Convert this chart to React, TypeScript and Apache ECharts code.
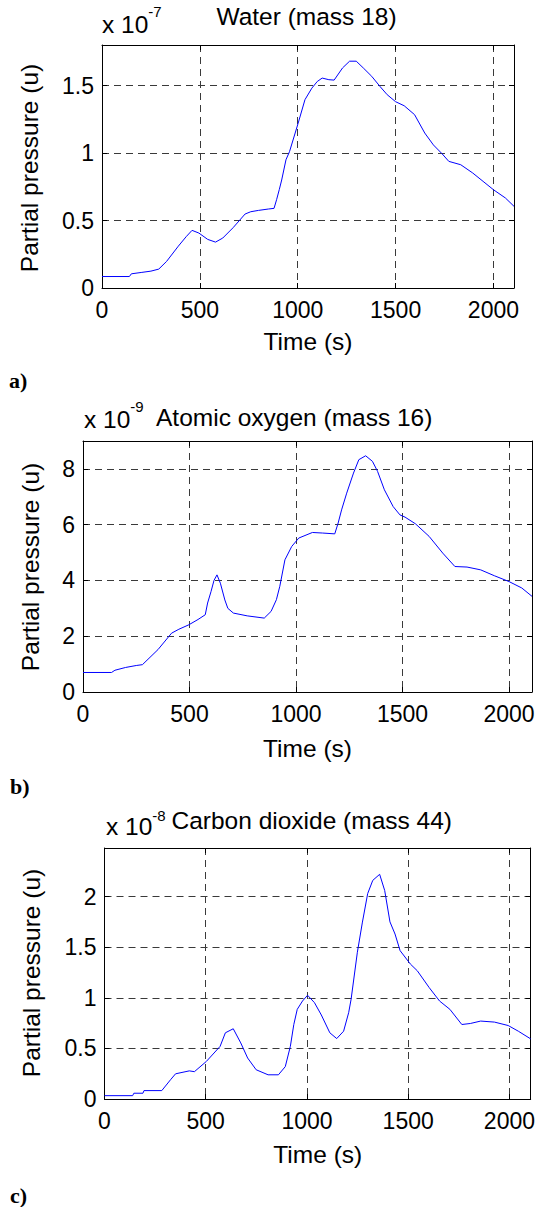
import React, { useEffect, useRef } from "react";
import * as echarts from "echarts";

// Time (s) and partial pressure values (scaled units)
const waterT = [0, 140, 150, 200, 250, 290, 330, 390, 430, 460, 495, 540, 580, 617, 670, 731, 760, 800, 850, 879, 892, 906, 918, 940, 958, 1002, 1037, 1072, 1100, 1125, 1159, 1186, 1229, 1265, 1299, 1335, 1378, 1422, 1457, 1500, 1544, 1597, 1649, 1693, 1737, 1772, 1833, 1894, 1947, 2000, 2061, 2105];
const waterV = [0.085, 0.085, 0.105, 0.115, 0.125, 0.14, 0.197, 0.31, 0.38, 0.427, 0.407, 0.36, 0.34, 0.37, 0.447, 0.548, 0.565, 0.575, 0.585, 0.59, 0.654, 0.73, 0.8, 0.95, 1.01, 1.22, 1.395, 1.48, 1.53, 1.555, 1.543, 1.54, 1.63, 1.68, 1.68, 1.63, 1.568, 1.49, 1.432, 1.38, 1.35, 1.284, 1.148, 1.06, 0.995, 0.938, 0.913, 0.852, 0.79, 0.728, 0.667, 0.605];

const oxyT = [0, 134, 150, 200, 250, 279, 352, 416, 450, 497, 540, 574, 585, 601, 615, 629, 645, 666, 680, 706, 771, 851, 883, 908, 924, 948, 980, 1013, 1077, 1125, 1182, 1198, 1214, 1238, 1270, 1295, 1327, 1359, 1383, 1415, 1456, 1488, 1512, 1561, 1625, 1689, 1746, 1803, 1867, 1931, 2000, 2060, 2108];
const oxyV = [0.7, 0.7, 0.78, 0.88, 0.95, 0.98, 1.52, 2.11, 2.25, 2.41, 2.6, 2.77, 3.19, 3.6, 4.0, 4.2, 3.9, 3.3, 3.0, 2.83, 2.73, 2.65, 2.89, 3.31, 3.79, 4.74, 5.22, 5.52, 5.72, 5.7, 5.67, 6.06, 6.53, 7.13, 7.85, 8.33, 8.47, 8.27, 7.91, 7.25, 6.65, 6.35, 6.27, 6.03, 5.58, 4.98, 4.5, 4.48, 4.38, 4.17, 3.96, 3.73, 3.43];

const co2T = [0, 139, 145, 190, 195, 283, 326, 351, 419, 444, 503, 571, 597, 636, 673, 707, 749, 808, 859, 893, 918, 935, 952, 978, 1003, 1037, 1071, 1113, 1147, 1181, 1206, 1218, 1249, 1274, 1300, 1325, 1359, 1384, 1410, 1435, 1460, 1511, 1545, 1604, 1655, 1706, 1765, 1807, 1858, 1926, 1994, 2044, 2105];
const co2V = [0.033, 0.033, 0.057, 0.057, 0.083, 0.083, 0.19, 0.249, 0.278, 0.27, 0.371, 0.52, 0.654, 0.694, 0.554, 0.405, 0.289, 0.239, 0.239, 0.32, 0.52, 0.736, 0.886, 0.968, 1.025, 0.952, 0.83, 0.654, 0.597, 0.67, 0.853, 0.985, 1.45, 1.748, 2.03, 2.16, 2.22, 2.06, 1.75, 1.63, 1.466, 1.333, 1.267, 1.1, 0.968, 0.886, 0.736, 0.746, 0.77, 0.76, 0.726, 0.67, 0.594];

const titles = ["Water (mass 18)", "Atomic oxygen (mass 16)", "Carbon dioxide (mass 44)"];
const exponents = ["-7", "-9", "-8"];
const panelLabels = ["a)", "b)", "c)"];
const xLabel = "Time (s)";
const yLabel = "Partial pressure (u)";
const xMax = [2105, 2108, 2105];
const yMax = [1.8, 9, 2.48];
const yInterval = [0.5, 2, 0.5];

const FONT = "'Liberation Sans', Arial, Helvetica, sans-serif";

const grids = [
  { left: 102, top: 45, width: 412, height: 243 },
  { left: 83, top: 441, width: 449, height: 251 },
  { left: 104.5, top: 848, width: 426.5, height: 251 },
];

function pairs(t: number[], v: number[]) {
  return t.map((x, i) => [x, v[i]]);
}

export default function App() {
  const ref = useRef<HTMLDivElement>(null);
  useEffect(() => {
    document.body.style.margin = "0";
    const chart = echarts.init(ref.current!, undefined, { renderer: "svg" });
    const xAxis: any[] = [];
    const yAxis: any[] = [];
    const line = { show: true, onZero: false, lineStyle: { color: "#000", width: 1 } };
    const tick = { show: true, inside: true, length: 5, lineStyle: { color: "#000", width: 1 } };
    const split = { show: true, lineStyle: { color: "#3a3a3a", width: 1, type: [7, 5] } };
    const fmt = (v: number) => String(v);
    grids.forEach((g, i) => {
      xAxis.push({
        gridIndex: i, type: "value", min: 0, max: xMax[i], interval: 500,
        axisLine: line, axisTick: tick,
        axisLabel: { color: "#000", fontSize: 23, fontFamily: FONT, margin: 10, showMaxLabel: false, formatter: fmt },
        splitLine: split,
      });
      xAxis.push({
        gridIndex: i, type: "value", position: "top", min: 0, max: xMax[i], interval: 500,
        axisLine: line, axisTick: tick, axisLabel: { show: false }, splitLine: { show: false },
      });
      yAxis.push({
        gridIndex: i, type: "value", min: 0, max: yMax[i], interval: yInterval[i],
        axisLine: line, axisTick: tick,
        axisLabel: { color: "#000", fontSize: 23, fontFamily: FONT, margin: 8, showMaxLabel: false, formatter: fmt },
        splitLine: split,
      });
      yAxis.push({
        gridIndex: i, type: "value", position: "right", min: 0, max: yMax[i], interval: yInterval[i],
        axisLine: line, axisTick: tick, axisLabel: { show: false }, splitLine: { show: false },
      });
    });
    const data = [pairs(waterT, waterV), pairs(oxyT, oxyV), pairs(co2T, co2V)];
    const series = data.map((d, i) => ({
      type: "line", xAxisIndex: i * 2, yAxisIndex: i * 2, data: d,
      showSymbol: false, symbol: "none",
      lineStyle: { color: "#0000ff", width: 1 },
    }));

    const txt = (text: string, x: number, y: number, size: number, align = "center", extra: any = {}) => ({
      type: "text", x, y, ...extra,
      style: { text, fontSize: size, fontFamily: FONT, fill: "#000", textAlign: align, textVerticalAlign: "middle" },
    });

    const X10 = 24.5;
    const expPos = [
      { x10x: 102, x10y: 24.5, ey: 11, tx: 306.5, ta: "center", ty: 16, lx: 9, ly: 380, ylx: 29, yly: 168, xly: 341 },
      { x10x: 84, x10y: 419, ey: 406.5, tx: 156, ta: "left", ty: 417, lx: 10, ly: 786, ylx: 30, yly: 567, xly: 748 },
      { x10x: 106, x10y: 826.5, ey: 815, tx: 171.5, ta: "left", ty: 820, lx: 10, ly: 1195, ylx: 31, yly: 973, xly: 1154 },
    ];
    const graphic: any[] = [];
    expPos.forEach((p, i) => {
      const g = grids[i];
      graphic.push(txt("x 10", p.x10x, p.x10y, X10, "left"));
      graphic.push(txt(exponents[i], p.x10x + 1.89 * X10, p.ey, 15, "left"));
      graphic.push(txt(titles[i], p.tx, p.ty, 24.5, p.ta));
      graphic.push(txt(xLabel, g.left + g.width / 2, p.xly, 24.5, "center"));
      graphic.push(txt(yLabel, p.ylx, p.yly, 24.5, "center", { rotation: Math.PI / 2 }));
      graphic.push({
        type: "text", x: p.lx, y: p.ly,
        style: { text: panelLabels[i], fontSize: 22, fontWeight: "bold", fontFamily: "'Liberation Serif', 'Times New Roman', serif", fill: "#000", textAlign: "left", textVerticalAlign: "middle" },
      });
    });

    chart.setOption({
      animation: false,
      backgroundColor: "#fff",
      grid: grids.map((g) => ({ ...g, show: false })),
      xAxis, yAxis, series, graphic,
    });
    return () => chart.dispose();
  }, []);
  return <div ref={ref} style={{ width: 538, height: 1207 }} />;
}
